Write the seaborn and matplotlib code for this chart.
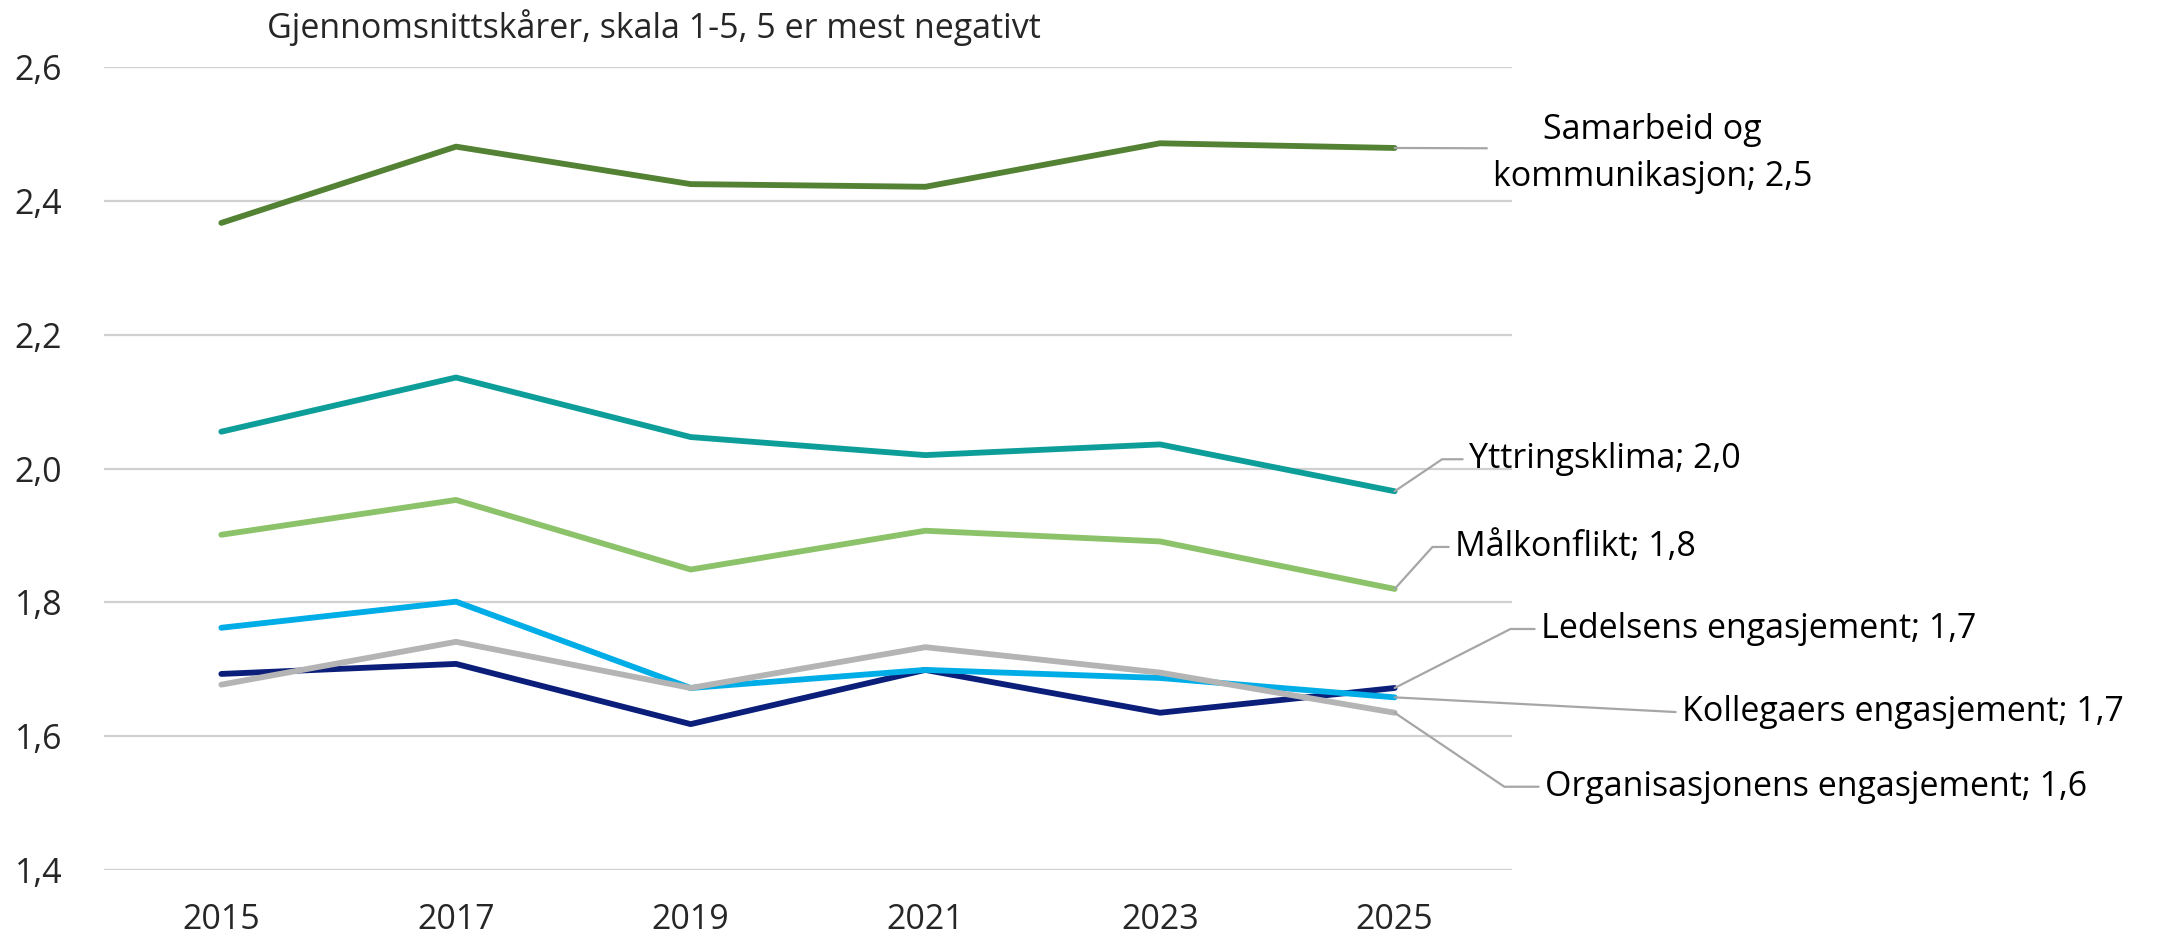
import matplotlib
matplotlib.use("Agg")
import pandas as pd
import matplotlib.pyplot as plt
import seaborn as sns

# Data
years = [2015, 2017, 2019, 2021, 2023, 2025]
samarbeid = [2.367, 2.481, 2.425, 2.421, 2.486, 2.479]
yttring = [2.055, 2.136, 2.047, 2.020, 2.036, 1.966]
malkonflikt = [1.901, 1.953, 1.849, 1.907, 1.891, 1.820]
kollegaer = [1.762, 1.801, 1.672, 1.699, 1.687, 1.658]
ledelse = [1.693, 1.708, 1.618, 1.699, 1.635, 1.672]
organisasjon = [1.677, 1.741, 1.672, 1.733, 1.695, 1.635]

series_names = ["Ledelsens engasjement", "Kollegaers engasjement",
                "Organisasjonens engasjement", "Målkonflikt",
                "Yttringsklima", "Samarbeid og\nkommunikasjon"]
series_values = [ledelse, kollegaer, organisasjon, malkonflikt, yttring, samarbeid]
colors = ["#0B1F7A", "#00ADE6", "#B4B4B4", "#8CC36A", "#0E9E9A", "#548235"]

y_ticks = [1.4, 1.6, 1.8, 2.0, 2.2, 2.4, 2.6]
y_labels = ["1,4", "1,6", "1,8", "2,0", "2,2", "2,4", "2,6"]
title = "Gjennomsnittskårer, skala 1-5, 5 er mest negativt"

# long table for seaborn
df = pd.DataFrame({
    "year": years * len(series_names),
    "value": [v for vals in series_values for v in vals],
    "series": [n for n in series_names for _ in years],
})

sns.set_theme(style="white")
plt.rcParams["font.family"] = ["Open Sans", "DejaVu Sans"]
fs = 24.5

fig = plt.figure(figsize=(21.81, 9.43), dpi=100)
ax = fig.add_axes([104 / 2181, 1 - 870 / 943, 1408 / 2181, 803 / 943])

sns.lineplot(data=df, x="year", y="value", hue="series", hue_order=series_names,
             palette=dict(zip(series_names, colors)), linewidth=4.2,
             legend=False, ax=ax)

ax.set_xlim(2014, 2026)
ax.set_ylim(1.4, 2.6)
ax.set_xticks(years)
ax.set_xticklabels([str(y) for y in years])
ax.set_yticks(y_ticks)
ax.set_yticklabels(y_labels)
ax.tick_params(axis="x", length=0, pad=24, labelsize=fs)
ax.tick_params(axis="y", length=0, pad=30, labelsize=fs)
ax.set_xlabel("")
ax.set_ylabel("")
ax.grid(axis="y", color="#D0D0D0", linewidth=1.6)
ax.set_axisbelow(True)
for s in ax.spines.values():
    s.set_visible(False)

# data labels with leader lines (offsets in pixels from the last point)
label_layout = {
    "Samarbeid og\nkommunikasjon": ((258, -6), None, 0.57),
    "Yttringsklima": ((74, 32), 34, 0.5),
    "Målkonflikt": ((60, 42), 48, 0.5),
    "Ledelsens engasjement": ((146, 59), 27, 0.5),
    "Kollegaers engasjement": ((287, -15), None, 0.5),
    "Organisasjonens engasjement": ((150, -74), -34, 0.5),
}
for name, vals in zip(series_names, series_values):
    (dx, dy), ang, ry = label_layout[name]
    txt = f"{name}; {vals[-1]:.1f}".replace(".", ",")
    if ang is None:
        conn = "arc3,rad=0"
    else:
        conn = f"angle,angleA=0,angleB={ang},rad=0"
    multi = "\n" in name
    ax.annotate(txt, xy=(years[-1], vals[-1]), xytext=(dx, dy),
                textcoords="offset pixels",
                ha="center" if multi else "left", va="center",
                multialignment="center", linespacing=1.5,
                fontsize=fs, color="black",
                arrowprops=dict(arrowstyle="-", color="#A6A6A6", lw=1.6,
                                connectionstyle=conn, relpos=(0, ry),
                                shrinkA=2, shrinkB=0))

fig.text(267 / 2181, 1 - 28 / 943, title, fontsize=fs, ha="left", va="center")

fig.savefig("out.png", dpi=100)
